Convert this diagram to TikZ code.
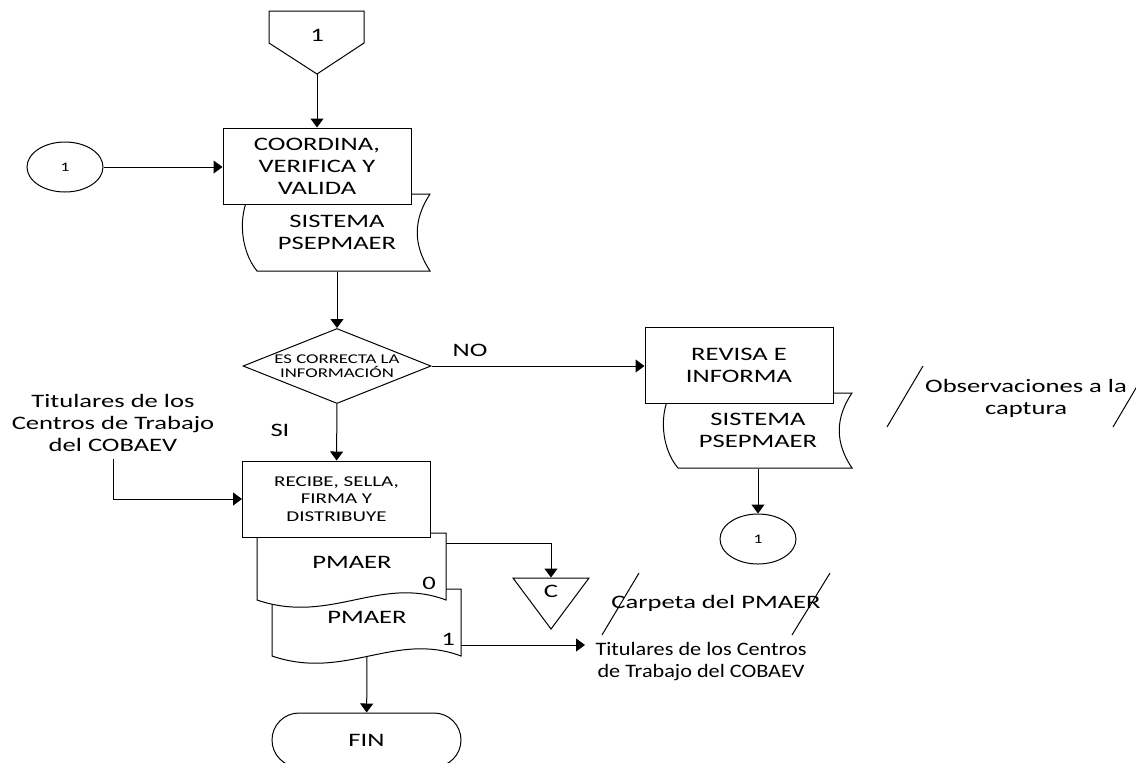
\documentclass[tikz,border=0pt]{standalone}
\usepackage{fontspec}
\setmainfont{Carlito}[FakeStretch=1.4]
\newfontfamily\estrecha{Carlito}[FakeStretch=1.17]
\usetikzlibrary{arrows.meta,shapes.geometric,shapes.misc}

\tikzset{
	rotulo/.style={align=center, font=\fontsize{9.5}{11}\selectfont},
	proc/.style={rotulo, draw, fill=white, minimum width=94pt, minimum height=38pt, inner sep=0pt},
	decision/.style={diamond, draw, aspect=2.5, inner sep=0pt, minimum width=94pt, minimum height=37.5pt, align=center, font=\fontsize{6.7}{7}\selectfont},
	conec/.style={ellipse, draw, minimum width=38pt, minimum height=25pt, inner sep=0pt, font=\fontsize{6.5}{7}\selectfont},
	terminal/.style={rounded rectangle, draw, minimum width=94.5pt, minimum height=27pt, inner sep=0pt, font=\fontsize{9.5}{11}\selectfont},
	flecha/.style={-{Triangle[length=4.5pt,width=6.5pt]}}
}

\begin{document}
\begin{tikzpicture}[x=0.5pt, y=-0.5pt, line width=0.5pt]
	\useasboundingbox (0,0) rectangle (1136,762);

	% conector de pagina
	\draw (269,11) -- (364,11) -- (364,43) -- (317,74) -- (269,43) -- cycle;
	\node [rotulo] at (317,35) {1};
	\coordinate (pag) at (317,74);

	% coordina, verifica y valida
	\draw (250,194) -- (430,194) .. controls (413,220) and (413,245) .. (430,271) -- (257,271) .. controls (240,250) and (238,215) .. (250,194) -- cycle;
	\node [rotulo, minimum height=38.5pt] (sis1) at (337,232.5) {SISTEMA\\PSEPMAER};
	\node [proc] (coord) at (317,166) {COORDINA,\\VERIFICA Y\\VALIDA};
	\node [conec] (c1) at (65,167) {1};
	\draw [flecha] (pag) -- (coord);
	\draw [flecha] (c1.east) -- (c1.east -| coord.west);

	% decision
	\node [decision] (dec) at (337,366) {ES CORRECTA LA\\INFORMACIÓN};
	\draw [flecha] (sis1) -- (dec);
	\node [rotulo] at (470,350) {NO};
	\node [rotulo] at (280,430) {SI};

	% revisa e informa
	\draw (671,393) -- (852,393) .. controls (835,418) and (835,443) .. (852,468) -- (678,468) .. controls (661,448) and (659,413) .. (671,393) -- cycle;
	\node [rotulo, minimum height=37.5pt] (sis2) at (758,430.5) {SISTEMA\\PSEPMAER};
	\node [proc] (rev) at (739,365) {REVISA E\\INFORMA};
	\node [conec] (c2) at (758,539) {1};
	\draw [flecha] (dec.east) -- (dec.east -| rev.west);
	\draw [flecha] (sis2) -- (c2);

	% observaciones
	\node [rotulo] (obs) at (1026,398) {Observaciones a la\\captura};
	\draw (887,427) -- (923,366);
	\draw (1113,427) -- (1149,366);

	% recibe, sella, firma y distribuye
	\draw (272,589) -- (461,589) -- (461,656) .. controls (395,631) and (345,681) .. (272,656) -- cycle;
	\draw [fill=white] (257,533) -- (446,533) -- (446,600) .. controls (380,575) and (330,625) .. (257,600) -- cycle;
	\node [rotulo] (doc0) at (352,562) {PMAER};
	\node [rotulo] at (429,583) {0};
	\node [rotulo] (doc1) at (367,617) {PMAER};
	\node [rotulo] at (448,639) {1};
	\coordinate (sal0) at (446,543);
	\coordinate (sal1) at (461,645);
	\coordinate (baja1) at (367,656);
	\node [proc, font=\fontsize{7.5}{8.75}\selectfont] (rec) at (336.5,499) {RECIBE, SELLA,\\FIRMA Y\\DISTRIBUYE};
	\draw [flecha] (dec) -- (rec);
	\node [rotulo] (tit1) at (113,423) {Titulares de los\\Centros de Trabajo\\del COBAEV};
	\draw [flecha] (tit1.south) |- (rec);

	% archivo
	\draw (513,578) -- (589,578) -- (551,629) -- cycle;
	\node [rotulo, inner sep=0pt, minimum height=13pt] (arch) at (551,591) {C};
	\draw [flecha] (sal0) -| (arch.north);
	\node [rotulo] (carp) at (716,603) {Carpeta del PMAER};
	\draw (602,635) -- (639,573);
	\draw (792,635) -- (830,573);

	% distribucion
	\node [rotulo, font=\estrecha\fontsize{9.5}{11}\selectfont, inner sep=5pt] (tit2) at (701,662) {Titulares de los Centros\\de Trabajo del COBAEV};
	\draw [flecha] (sal1) -- (sal1 -| tit2.west);

	% fin
	\node [terminal] (fin) at (366.5,740) {FIN};
	\draw [flecha] (baja1) -- (fin);
\end{tikzpicture}
\end{document}
